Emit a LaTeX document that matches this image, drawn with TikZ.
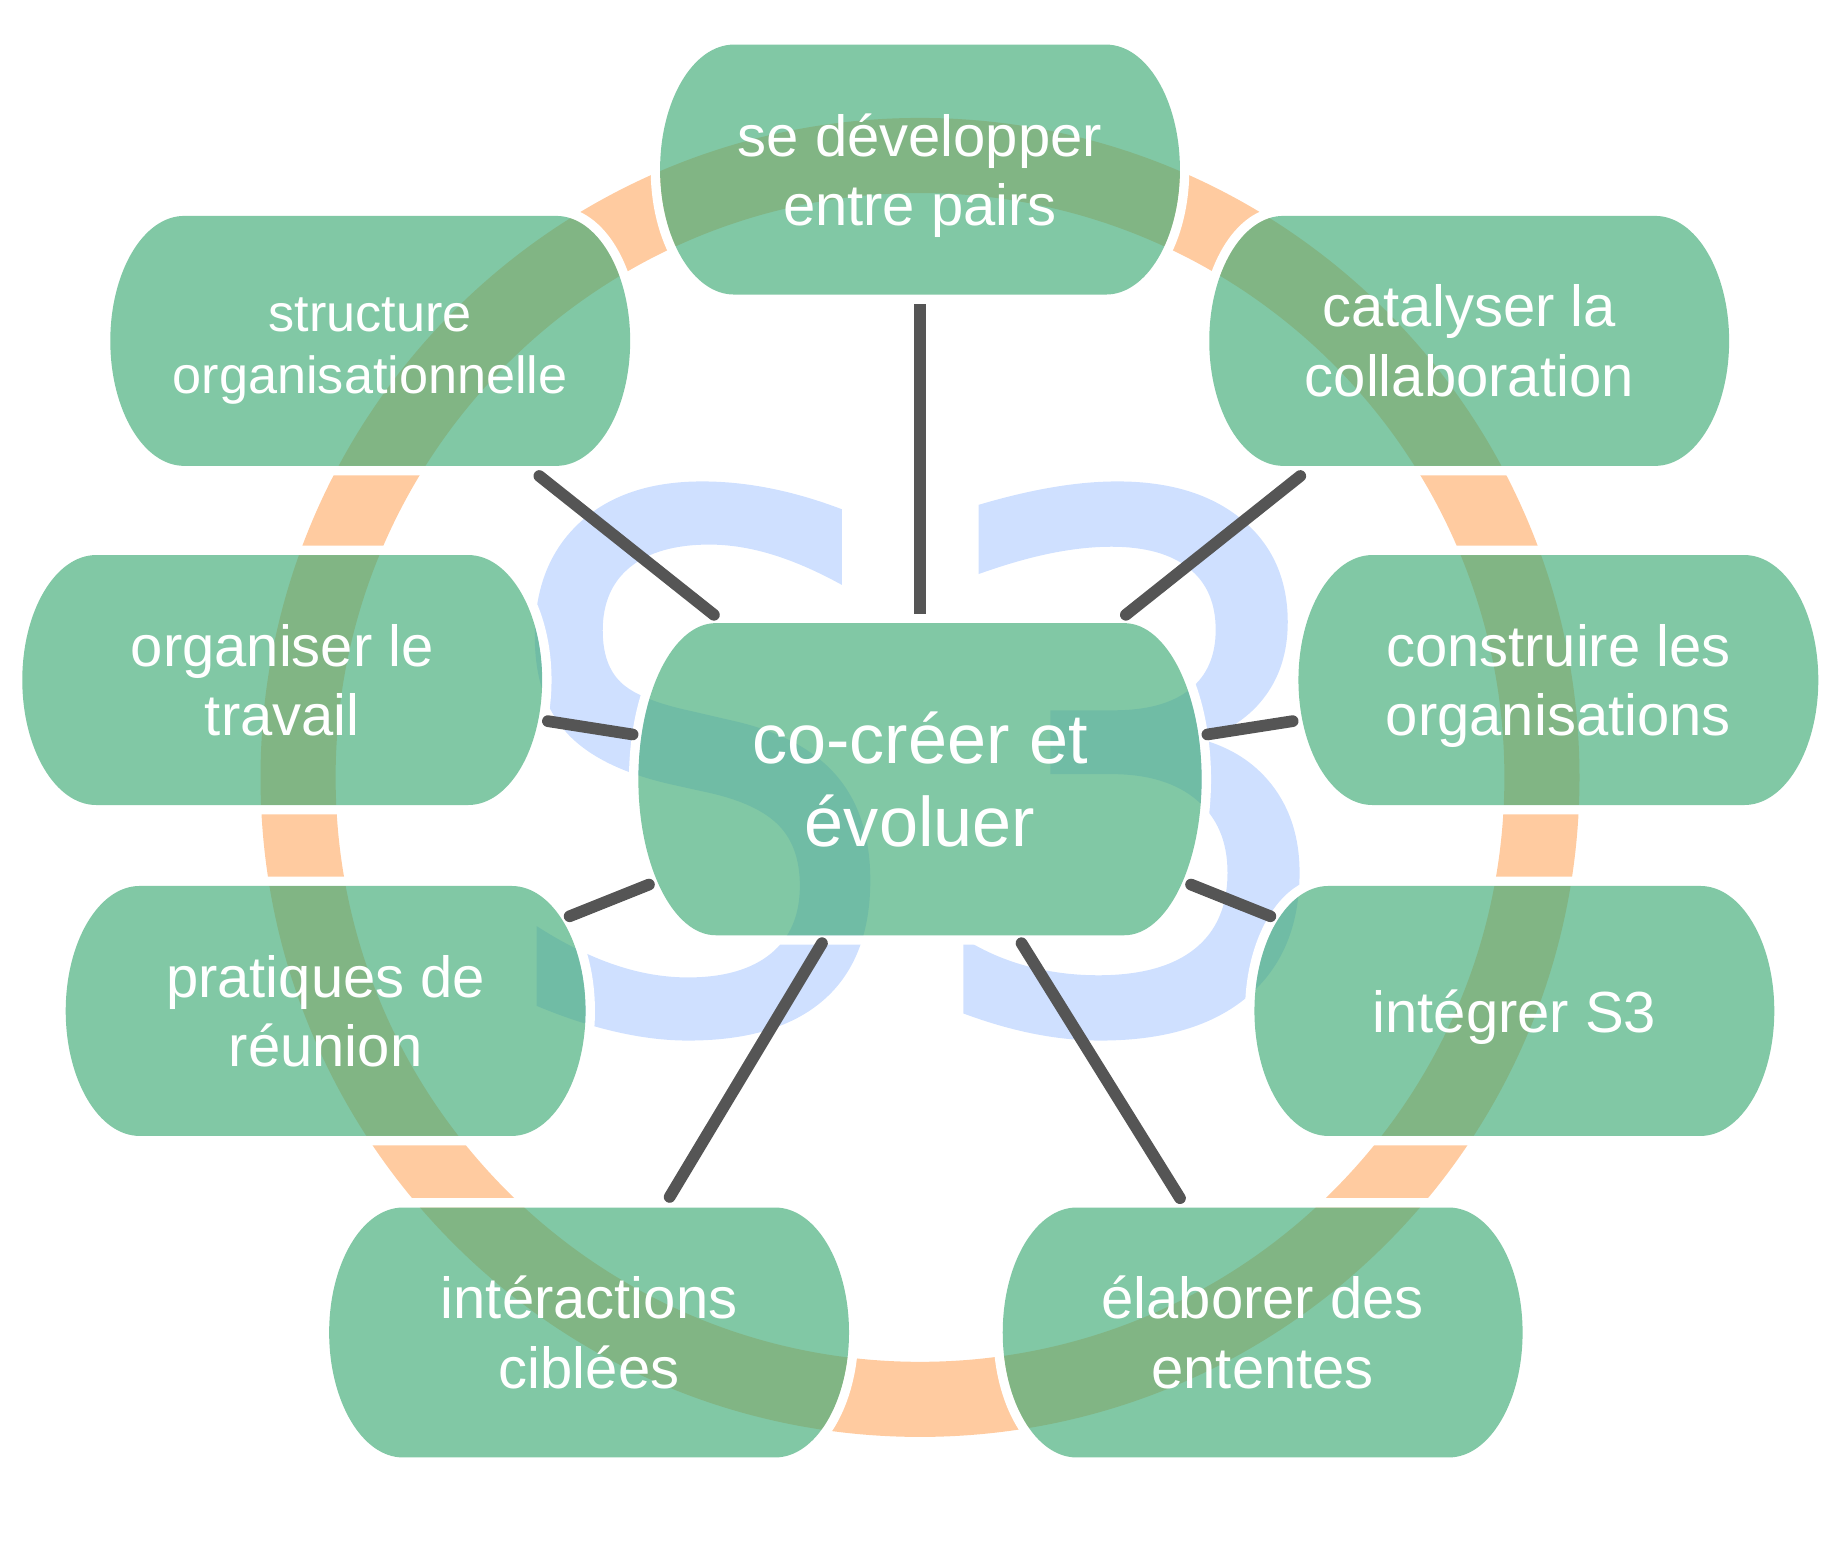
\documentclass[tikz,border=0pt]{standalone}
\usepackage{fontspec}
\setmainfont{Liberation Sans}
\newfontfamily\bigfont[FakeBold=0.6]{DejaVu Sans}
\usetikzlibrary{calc}
\pgfdeclarelayer{backdrop}
\pgfsetlayers{backdrop,main}
\definecolor{ringcol}{RGB}{255,203,160}
\definecolor{s3col}{RGB}{207,224,255}
\definecolor{boxcol}{RGB}{62,170,117}
\definecolor{linkcol}{RGB}{85,85,85}
\newcommand\bx[3]{($(#1.north west)+(#2pt,0pt)$) -- ($(#1.north east)+(-#2pt,0pt)$) arc[start angle=90,end angle=-90,x radius=#2pt,y radius=#3pt] -- ($(#1.south west)+(#2pt,0pt)$) arc[start angle=270,end angle=90,x radius=#2pt,y radius=#3pt] -- cycle}
\newcommand\bxn[1]{\bx{#1}{63}{106.5}}
\newcommand\bxc{\bx{center}{66}{133}}
\newcommand\nodepth[1]{\raisebox{0pt}[\height][0pt]{#1}}
\tikzset{
  stagebox/.style={rectangle,inner sep=0pt,outer sep=0pt,minimum width=443pt,minimum height=213pt,align=center,text=white,font=\fontsize{49.4}{59}\selectfont},
  smallbox/.style={stagebox,font=\fontsize{44.5}{53}\selectfont},
  hubbox/.style={rectangle,inner sep=0pt,outer sep=0pt,minimum width=480pt,minimum height=266pt,align=center,text=white,font=\fontsize{59.8}{71}\selectfont},
  link/.style={draw=linkcol,line width=10pt,line cap=round},
  linkflat/.style={draw=linkcol,line width=10pt,line cap=butt},
  halo/.style={draw=white,line width=16pt},
  tint/.style={fill=boxcol,fill opacity=0.65}
}
\begin{document}
\begin{tikzpicture}[x=1pt,y=-1pt]
\useasboundingbox (0,0) rectangle (1568,1329.5);
\node[hubbox] (center) at (784,664) {co-créer et\\évoluer};
\node[stagebox] (dev) at (784,144.5) {se développer\\\nodepth{entre pairs}};
\node[smallbox] (struct) at (315.5,290.5) {\rule{0pt}{37pt}structure\\\nodepth{organisationnelle}};
\node[stagebox] (cat) at (1252,290.5) {catalyser la\\collaboration};
\node[stagebox] (org) at (240.5,579.5) {organiser le\\travail};
\node[stagebox] (con) at (1328,579.5) {construire les\\\nodepth{organisations}};
\node[stagebox] (pra) at (277.5,861.5) {pratiques de\\réunion};
\node[stagebox] (int) at (1290.5,861.5) {\nodepth{intégrer S3}};
\node[stagebox] (ira) at (502,1135.5) {intéractions\\ciblées};
\node[stagebox] (ela) at (1076,1135.5) {élaborer des\\ententes};
\begin{pgfonlayer}{backdrop}
  \node[transform shape,xscale=.89,text=s3col,inner sep=0pt,font=\bigfont\fontsize{625}{625}\selectfont] (s3) at (787,648.5) {\scalebox{.99}[1]{S}\kern8pt\scalebox{1.06}[1]{3}};
  \draw[ringcol,line width=64pt] (784,662.5) circle[radius=530pt];
  \begin{scope}[even odd rule]
    \clip (-5,-5) rectangle (1575,1335) \bxc \bxn{dev} \bxn{struct} \bxn{cat} \bxn{org} \bxn{con} \bxn{pra} \bxn{int} \bxn{ira} \bxn{ela};
    \draw[halo] \bxc;
    \draw[halo] \bxn{dev};
    \draw[halo] \bxn{struct};
    \draw[halo] \bxn{cat};
    \draw[halo] \bxn{org};
    \draw[halo] \bxn{con};
    \draw[halo] \bxn{pra};
    \draw[halo] \bxn{int};
    \draw[halo] \bxn{ira};
    \draw[halo] \bxn{ela};
  \end{scope}
  \fill[tint] \bxc;
  \fill[tint] \bxn{dev};
  \fill[tint] \bxn{struct};
  \fill[tint] \bxn{cat};
  \fill[tint] \bxn{org};
  \fill[tint] \bxn{con};
  \fill[tint] \bxn{pra};
  \fill[tint] \bxn{int};
  \fill[tint] \bxn{ira};
  \fill[tint] \bxn{ela};
\end{pgfonlayer}
\draw[linkflat,shorten <=8pt,shorten >=8pt] (center) -- (dev);
\draw[link,shorten <=11.4pt,shorten >=13.9pt] (center) -- (struct);
\draw[link,shorten <=11.4pt,shorten >=13.9pt] (center) -- (cat);
\draw[link,shorten <=5pt,shorten >=5pt] (center) -- (org);
\draw[link,shorten <=5pt,shorten >=5pt] (center) -- (con);
\draw[link,shorten <=-9.7pt,shorten >=-14.6pt] (center) -- (pra);
\draw[link,shorten <=-9.7pt,shorten >=-14.6pt] (center) -- (int);
\draw[link,shorten <=7.9pt,shorten >=10.5pt] (center) -- (ira);
\draw[link,shorten <=8pt,shorten >=9.4pt] (center) -- (ela);
\end{tikzpicture}
\end{document}
